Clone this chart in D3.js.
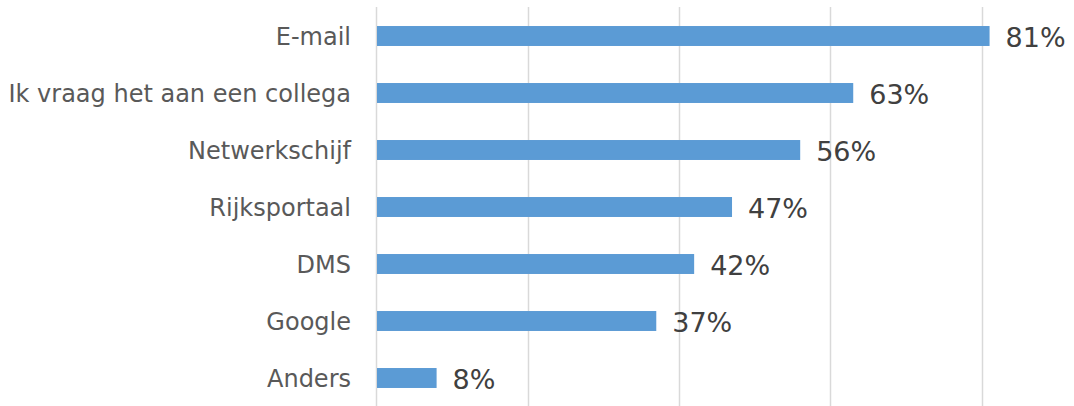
<!DOCTYPE html>
<html>
<head>
<meta charset="utf-8">
<script src="https://cdn.jsdelivr.net/npm/d3@7"></script>
<style>
  html, body { margin: 0; padding: 0; background: #fff; }
  svg { display: block; }
</style>
</head>
<body>
<svg id="chart" width="1074" height="406"></svg>
<script>
const categories = ["E-mail", "Ik vraag het aan een collega", "Netwerkschijf", "Rijksportaal", "DMS", "Google", "Anders"];
const values = [0.81, 0.63, 0.56, 0.47, 0.42, 0.37, 0.08];
const gridTicks = [0, 0.2, 0.4, 0.6, 0.8];

const svg = d3.select("#chart");
const x = d3.scaleLinear().domain([0, 0.8]).range([376, 982]);
const y = d3.scaleBand().domain(categories).range([7.5, 406.5]).paddingInner(0.65).paddingOuter(0.325);

// gridlines
svg.append("g").selectAll("line").data(gridTicks).join("line")
  .attr("x1", d => Math.round(x(d)) + 0.5).attr("x2", d => Math.round(x(d)) + 0.5)
  .attr("y1", 7).attr("y2", 406)
  .attr("stroke", "#d9d9d9").attr("stroke-width", 1.5);

// bars
svg.append("g").selectAll("rect").data(values).join("rect")
  .attr("x", x(0) + 1)
  .attr("y", (d, i) => y(categories[i]))
  .attr("width", d => x(d) - x(0) - 1)
  .attr("height", y.bandwidth())
  .attr("fill", "#5b9bd5");

// category labels
svg.append("g").selectAll("text").data(categories).join("text")
  .attr("x", 351)
  .attr("y", d => y(d) + y.bandwidth() / 2 + 8.5)
  .attr("text-anchor", "end")
  .attr("font-family", "DejaVu Sans, Verdana, sans-serif")
  .attr("font-size", 24)
  .attr("fill", "#595959")
  .text(d => d);

// value labels
svg.append("g").selectAll("text").data(values).join("text")
  .attr("x", d => x(d) + 16)
  .attr("y", (d, i) => y(categories[i]) + y.bandwidth() / 2 + 11)
  .attr("font-family", "DejaVu Sans, Verdana, sans-serif")
  .attr("font-size", 27)
  .attr("fill", "#404040")
  .text(d => d3.format(".0%")(d));
</script>
</body>
</html>
